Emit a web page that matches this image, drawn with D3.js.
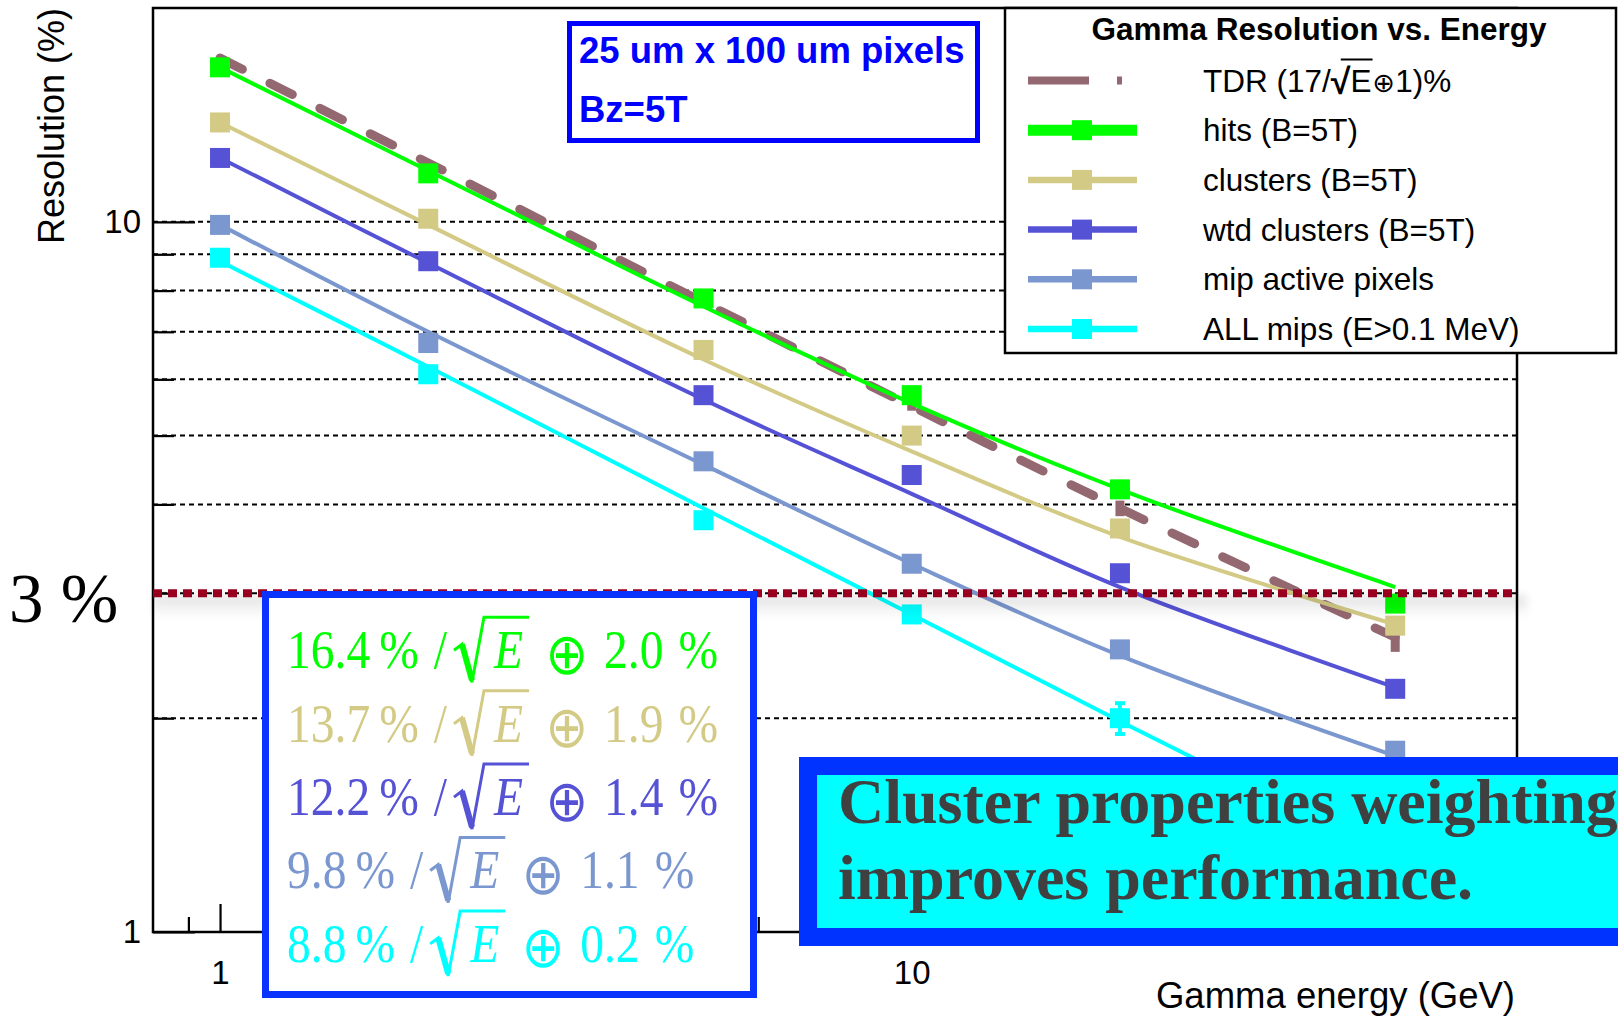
<!DOCTYPE html>
<html>
<head>
<meta charset="utf-8">
<script src="https://cdn.jsdelivr.net/npm/d3@7/dist/d3.min.js"></script>
<style>
html,body{margin:0;padding:0;background:#fff;overflow:hidden;}
svg{display:block;}
</style>
</head>
<body>
<svg id="chart" width="1618" height="1018"></svg>
<script>
// ---------------- data ----------------
const energies = [1, 2, 5, 10, 20, 50];

const tdrValues = [17.0, 12.1, 7.7, 5.5, 3.95, 2.6];
const tdrErrors = [0, 0, 0, 0.08, 0.1, 0.12];

const hitsValues = [16.5, 11.7, 7.8, 5.7, 4.2, 2.9];
const hitsFit = [16.5, 11.8, 7.6, 5.55, 4.2, 3.06];
const hitsErrors = [0, 0, 0, 0, 0, 0.03];

const clusterValues = [13.8, 10.1, 6.6, 5.0, 3.7, 2.7];
const clusterFit = [13.8, 9.9, 6.4, 4.75, 3.6, 2.71];
const clusterErrors = [0, 0, 0, 0, 0, 0.03];

const wtdValues = [12.3, 8.8, 5.7, 4.4, 3.2, 2.2];
const wtdFit = [12.3, 8.75, 5.62, 4.14, 3.06, 2.21];
const wtdErrors = [0, 0, 0, 0, 0, 0.04];

const mipValues = [9.9, 6.75, 4.6, 3.3, 2.5, 1.8];
const mipFit = [9.9, 7.0, 4.55, 3.3, 2.45, 1.77];
const mipErrors = [0, 0, 0, 0, 0, 0];

const allValues = [8.9, 6.1, 3.8, 2.8, 2.0, 1.25];
const allFit = [8.8, 6.25, 3.95, 2.8, 1.98, 1.27];
const allErrors = [0, 0, 0.03, 0.06, 0.1, 0.03];

const legendTitle = "Gamma Resolution vs. Energy";
const tdrName = "TDR (17/√E⊕1)%";
const seriesNames = ["hits (B=5T)", "clusters (B=5T)", "wtd clusters (B=5T)", "mip active pixels", "ALL mips (E>0.1 MeV)"];
const stochasticTerms = ["16.4", "13.7", "12.2", "9.8", "8.8"];
const constantTerms = ["2.0", "1.9", "1.4", "1.1", "0.2"];

const yMajorTicks = [1, 10];
const yMinorTicks = [2, 3, 4, 5, 6, 7, 8, 9];
const xMajorTicks = [1, 10];
const xMinorTicks = [0.9, 2, 3, 4, 5, 6, 7, 8, 9, 20, 30, 40, 50, 60, 70];
const gridValues = [2, 3, 4, 5, 6, 7, 8, 9, 10];
const targetLevel = 3;

const xTitle = "Gamma energy (GeV)";
const yTitle = "Resolution (%)";
const targetLabel = "3 %";
const infoLines = ["25 um x 100 um pixels", "Bz=5T"];
const noteLines = ["Cluster properties weighting", "improves performance."];

// ---------------- styles ----------------
const W = 1618, H = 1018;
const SANS = "'Liberation Sans', Arial, Helvetica, sans-serif";
const SERIF = "'Liberation Serif', 'Times New Roman', Times, serif";
const SYM = "'DejaVu Sans', sans-serif";
const seriesColors = ["#00ff00", "#d3ca86", "#5552d5", "#7b97cf", "#00ffff"];
const tdrColor = "#946870";
const frame = {l: 153, r: 1517, t: 8, b: 932};

const svg = d3.select("#chart");
svg.append("rect").attr("width", W).attr("height", H).attr("fill", "#fff");

const defs = svg.append("defs");
const grad = defs.append("linearGradient").attr("id", "shadowGrad")
  .attr("x1", 0).attr("y1", 0).attr("x2", 0).attr("y2", 1);
grad.append("stop").attr("offset", "0%").attr("stop-color", "#000").attr("stop-opacity", 0.12);
grad.append("stop").attr("offset", "100%").attr("stop-color", "#000").attr("stop-opacity", 0);
defs.append("filter").attr("id", "soft").attr("x", "-5%").attr("y", "-50%").attr("width", "110%").attr("height", "200%")
  .append("feGaussianBlur").attr("stdDeviation", 4);

const x = d3.scaleLog().domain([0.8, 75]).range([frame.l, frame.r]);
const y = d3.scaleLog().domain([1, 20]).range([frame.b, frame.t]);

// ---------------- grid ----------------
svg.append("g").selectAll("line").data(gridValues).join("line")
  .attr("x1", frame.l).attr("x2", frame.r)
  .attr("y1", d => y(d)).attr("y2", d => y(d))
  .attr("stroke", "#000").attr("stroke-width", 2).attr("stroke-dasharray", "5 4");

// ---------------- axes ----------------
function styleAxis(g) {
  g.select(".domain").remove();
  g.selectAll(".tick line").attr("stroke", "#000").attr("stroke-width", 2.2);
  g.selectAll(".tick text").attr("font-family", SANS).attr("font-size", 33).attr("fill", "#000");
}
svg.append("g").attr("transform", `translate(${frame.l},0)`)
  .call(d3.axisLeft(y).tickValues(yMajorTicks).tickSizeInner(-42).tickSizeOuter(0).tickPadding(12).tickFormat(d3.format("d")))
  .call(styleAxis);
svg.append("g").attr("transform", `translate(${frame.l},0)`)
  .call(d3.axisLeft(y).tickValues(yMinorTicks).tickSizeInner(-21).tickSizeOuter(0).tickFormat(""))
  .call(styleAxis);
svg.append("g").attr("transform", `translate(0,${frame.b})`)
  .call(d3.axisBottom(x).tickValues(xMajorTicks).tickSizeInner(-28).tickSizeOuter(0).tickPadding(29).tickFormat(d3.format("d")))
  .call(styleAxis);
svg.append("g").attr("transform", `translate(0,${frame.b})`)
  .call(d3.axisBottom(x).tickValues(xMinorTicks).tickSizeInner(-15).tickSizeOuter(0).tickFormat(""))
  .call(styleAxis);

svg.append("rect").attr("x", frame.l).attr("y", frame.t)
  .attr("width", frame.r - frame.l).attr("height", frame.b - frame.t)
  .attr("fill", "none").attr("stroke", "#000").attr("stroke-width", 2.5);

// ---------------- curves ----------------
const line = d3.line().x(d => x(d[0])).y(d => y(d[1])).curve(d3.curveCatmullRom.alpha(0.5));
const zip = (vals) => energies.map((e, i) => [e, vals[i]]);

const series = [
  {name: seriesNames[0], values: hitsValues, fit: hitsFit, errors: hitsErrors, color: seriesColors[0]},
  {name: seriesNames[1], values: clusterValues, fit: clusterFit, errors: clusterErrors, color: seriesColors[1]},
  {name: seriesNames[2], values: wtdValues, fit: wtdFit, errors: wtdErrors, color: seriesColors[2]},
  {name: seriesNames[3], values: mipValues, fit: mipFit, errors: mipErrors, color: seriesColors[3]},
  {name: seriesNames[4], values: allValues, fit: allFit, errors: allErrors, color: seriesColors[4]}
];

// TDR dashed
svg.append("path").attr("d", line(zip(tdrValues))).attr("fill", "none")
  .attr("stroke", tdrColor).attr("stroke-width", 9).attr("stroke-linecap", "round")
  .attr("stroke-dasharray", "25 31");
// TDR error stubs
svg.append("g").selectAll("line").data(zip(tdrValues).map((d, i) => [d[0], d[1], tdrErrors[i]]).filter(d => d[2] > 0))
  .join("line")
  .attr("x1", d => x(d[0])).attr("x2", d => x(d[0]))
  .attr("y1", d => y(d[1] - d[2])).attr("y2", d => y(d[1] + d[2]))
  .attr("stroke", tdrColor).attr("stroke-width", 9);

series.slice().reverse().forEach(s => {
  svg.append("path").attr("d", line(zip(s.fit))).attr("fill", "none")
    .attr("stroke", s.color).attr("stroke-width", 4);
});

series.slice().reverse().forEach(s => {
  const pts = energies.map((e, i) => ({e, v: s.values[i], err: s.errors[i]}));
  const g = svg.append("g");
  const eb = g.selectAll(".eb").data(pts.filter(p => p.err > 0)).join("g");
  eb.append("line").attr("x1", p => x(p.e)).attr("x2", p => x(p.e))
    .attr("y1", p => y(p.v - p.err)).attr("y2", p => y(p.v + p.err))
    .attr("stroke", s.color).attr("stroke-width", 4);
  eb.append("line").attr("x1", p => x(p.e) - 5).attr("x2", p => x(p.e) + 5)
    .attr("y1", p => y(p.v - p.err)).attr("y2", p => y(p.v - p.err))
    .attr("stroke", s.color).attr("stroke-width", 4);
  eb.append("line").attr("x1", p => x(p.e) - 5).attr("x2", p => x(p.e) + 5)
    .attr("y1", p => y(p.v + p.err)).attr("y2", p => y(p.v + p.err))
    .attr("stroke", s.color).attr("stroke-width", 4);
  g.selectAll("rect").data(pts).join("rect")
    .attr("x", p => x(p.e) - 10).attr("y", p => y(p.v) - 10)
    .attr("width", 20).attr("height", 20).attr("fill", s.color);
});

// ---------------- 3 % target line ----------------
svg.append("rect").attr("x", frame.l).attr("y", y(targetLevel) + 2)
  .attr("width", frame.r - frame.l + 10).attr("height", 22).attr("fill", "url(#shadowGrad)")
  .attr("filter", "url(#soft)");
svg.append("line").attr("x1", frame.l).attr("x2", frame.r)
  .attr("y1", y(targetLevel)).attr("y2", y(targetLevel))
  .attr("stroke", "#990020").attr("stroke-width", 8).attr("stroke-dasharray", "9 6");
svg.append("text").attr("x", 9).attr("y", 622).attr("font-family", SERIF).attr("font-size", 69)
  .attr("fill", "#000").text(targetLabel);

// ---------------- info box ----------------
svg.append("rect").attr("x", 569.5).attr("y", 23.5).attr("width", 408).attr("height", 117)
  .attr("fill", "#fff").attr("stroke", "#0000ff").attr("stroke-width", 5);
svg.append("g").selectAll("text").data(infoLines).join("text")
  .attr("x", 579).attr("y", (d, i) => 63 + i * 59)
  .attr("font-family", SANS).attr("font-weight", "bold").attr("font-size", 36.5)
  .attr("fill", "#0000ff").text(d => d);

// ---------------- legend ----------------
const lg = svg.append("g");
lg.append("rect").attr("x", 1005).attr("y", 8).attr("width", 611).attr("height", 345)
  .attr("fill", "#fff").attr("stroke", "#000").attr("stroke-width", 2.5);
lg.append("text").attr("x", 1319).attr("y", 40).attr("text-anchor", "middle")
  .attr("font-family", SANS).attr("font-weight", "bold").attr("font-size", 31.5).attr("fill", "#000")
  .text(legendTitle);
const rowY = d3.range(6).map(i => 80.5 + i * 49.7);
// TDR row
lg.append("line").attr("x1", 1028).attr("x2", 1122).attr("y1", rowY[0]).attr("y2", rowY[0])
  .attr("stroke", tdrColor).attr("stroke-width", 8).attr("stroke-dasharray", "61 28");
const tdrText = lg.append("text").attr("x", 1203).attr("y", rowY[0] + 11)
  .attr("font-family", SANS).attr("font-size", 31.5).attr("fill", "#000");
const tdrParts = tdrName.split(/(√|E|⊕)/).filter(s => s.length);
tdrParts.forEach(p => {
  const ts = tdrText.append("tspan").text(p);
  if (p === "√") ts.attr("font-weight", "bold").attr("font-size", 36).attr("dy", 2);
  if (p === "E") ts.attr("dy", -2);
  if (p === "⊕") ts.attr("font-family", SYM).attr("font-size", 27).attr("dx", 1);
});
{
  const node = tdrText.node();
  const ei = tdrName.indexOf("E");
  const sx = node.getStartPositionOfChar(ei - 1).x + 10;
  const ex = node.getEndPositionOfChar(ei).x + 1;
  lg.append("line").attr("x1", sx).attr("x2", ex).attr("y1", rowY[0] - 21).attr("y2", rowY[0] - 21)
    .attr("stroke", "#000").attr("stroke-width", 2);
}
series.forEach((s, i) => {
  const yy = rowY[i + 1];
  lg.append("line").attr("x1", 1028).attr("x2", 1137).attr("y1", yy).attr("y2", yy)
    .attr("stroke", s.color).attr("stroke-width", i === 0 ? 11 : 6.5);
  lg.append("rect").attr("x", 1072).attr("y", yy - 10).attr("width", 20).attr("height", 20).attr("fill", s.color);
  lg.append("text").attr("x", 1203).attr("y", yy + 11)
    .attr("font-family", SANS).attr("font-size", 31.5).attr("fill", "#000").text(s.name);
});

// ---------------- formula box ----------------
const fb = svg.append("g");
fb.append("rect").attr("x", 265.5).attr("y", 594.5).attr("width", 488).attr("height", 400)
  .attr("fill", "#fff").attr("stroke", "#0a33ff").attr("stroke-width", 7);
const SX = 0.88;
function formulaLine(i) {
  const base = 668.3 + i * 73.4;
  const col = seriesColors[i];
  const t = fb.append("text").attr("transform", `scale(${SX},1)`).attr("fill", col)
    .attr("font-family", SERIF).attr("font-size", 54);
  const add = (str, X, attrs) => {
    const s = t.append("tspan").attr("x", X / SX).attr("y", base).text(str);
    if (attrs) Object.keys(attrs).forEach(k => s.attr(k, attrs[k]));
    return s;
  };
  const wid = s => s.node().getComputedTextLength() * SX;
  let cx = 287;
  let s = add(stochasticTerms[i], cx); cx += wid(s) + 9;
  s = add("%", cx); cx += wid(s) + 15;
  s = add("/", cx); cx += wid(s);
  const rs = cx + 7;
  const ex = rs + 40;
  s = add("E", ex, {"font-style": "italic"});
  const eEnd = ex + wid(s);
  const oc = eEnd + 44;
  s = add("⊕", 0, {"font-family": SYM, "font-size": 58});
  s.attr("y", base + 5.5);
  const ow = wid(s);
  s.attr("x", (oc - ow / 2) / SX);
  cx = oc + 37;
  s = add(constantTerms[i], cx); cx += wid(s) + 15;
  add("%", cx);
  const top = base - 51;
  fb.append("path")
    .attr("d", `M${rs},${base - 18} L${rs + 8},${base - 24} L${rs + 18},${base + 14} L${rs + 30},${top} L${eEnd + 6},${top}`)
    .attr("fill", "none").attr("stroke", col).attr("stroke-width", 3).attr("stroke-linejoin", "miter");
  fb.append("line").attr("x1", rs + 8).attr("y1", base - 24).attr("x2", rs + 18).attr("y2", base + 12)
    .attr("stroke", col).attr("stroke-width", 6);
}
stochasticTerms.forEach((d, i) => formulaLine(i));

// ---------------- note box ----------------
svg.append("rect").attr("x", 808).attr("y", 766).attr("width", 900).attr("height", 171)
  .attr("fill", "#00ffff").attr("stroke", "#0033ff").attr("stroke-width", 18);
svg.append("g").selectAll("text").data(noteLines).join("text")
  .attr("x", 838).attr("y", (d, i) => 823 + i * 76)
  .attr("font-family", SERIF).attr("font-weight", "bold").attr("font-size", 64)
  .attr("fill", "#404040").text(d => d);

// ---------------- axis titles ----------------
svg.append("text").attr("transform", "translate(64,8) rotate(-90)").attr("text-anchor", "end")
  .attr("font-family", SANS).attr("font-size", 36).attr("fill", "#000").text(yTitle);
svg.append("text").attr("x", 1515).attr("y", 1008).attr("text-anchor", "end")
  .attr("font-family", SANS).attr("font-size", 36.5).attr("fill", "#000").text(xTitle);
</script>
</body>
</html>
